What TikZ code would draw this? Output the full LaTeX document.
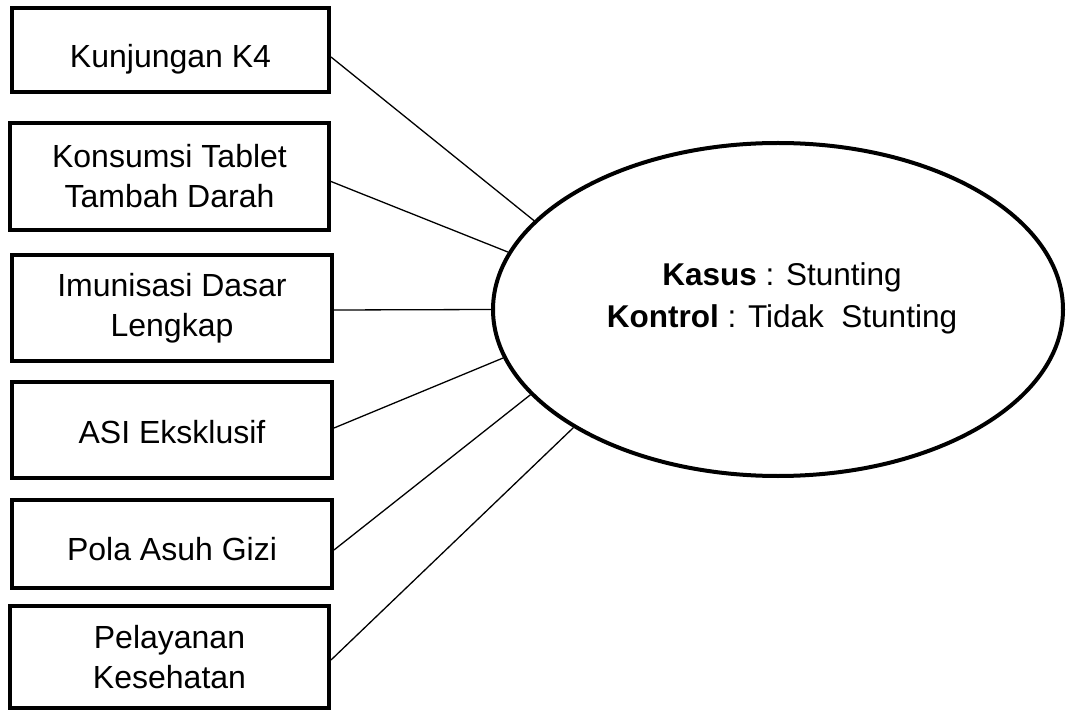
\documentclass[tikz,border=0pt]{standalone}
\usepackage{fontspec}
\setmainfont{Liberation Sans}
\usetikzlibrary{shapes.geometric,calc}
\newcommand{\lowertext}[2]{\raisebox{-#1}[\height][\depth]{#2}}
\begin{document}
\begin{tikzpicture}[x=1pt,y=-1pt,
  varbox/.style={draw=black,line width=4pt,inner sep=0pt,align=center,
    font=\fontsize{32}{40}\selectfont},
  outcome/.style={draw=black,ellipse,line width=4pt,inner sep=0pt,
    minimum width=570pt,minimum height=333pt},
  link/.style={draw=black,line width=1.3pt}]
\useasboundingbox (0,0) rectangle (1074,711);
\node[varbox,minimum width=317pt,minimum height=84pt] (b1) at (170.5,50) {\lowertext{9pt}{Kunjungan K4}};
\node[varbox,minimum width=319pt,minimum height=107pt] (b2) at (169.5,176.5) {Konsumsi Tablet\\Tambah Darah};
\node[varbox,minimum width=320pt,minimum height=106pt] (b3) at (172,308) {Imunisasi Dasar\\Lengkap};
\node[varbox,minimum width=320pt,minimum height=96pt] (b4) at (172,430) {\lowertext{2pt}{ASI Eksklusif}};
\node[varbox,minimum width=320pt,minimum height=88pt] (b5) at (172,544) {\lowertext{5pt}{Pola Asuh Gizi}};
\node[varbox,minimum width=319pt,minimum height=102pt] (b6) at (169.5,657) {Pelayanan\\Kesehatan};
\node[outcome] (e) at (778,309.5) {};
\node[align=center,font=\fontsize{31.5}{42}\selectfont] (t) at (782,298)
  {\textbf{Kasus} : Stunting\\\textbf{Kontrol} : Tidak\ \ Stunting};
\draw[link] ($(b1.east)+(0,7)$) -- (e.160.2);
\draw[link] ($(b2.east)+(0,5)$) -- (e.168.2);
\draw[link] ($(b3.east)+(0,2)$) -- (e.180);
\draw[link] ($(b4.east)+(0,-2)$) -- (e.190.9);
\draw[link] ($(b5.east)+(0,6)$) -- (e.199.9);
\draw[link] ($(b6.east)+(0,3)$) -- (e.210);
\end{tikzpicture}
\end{document}
